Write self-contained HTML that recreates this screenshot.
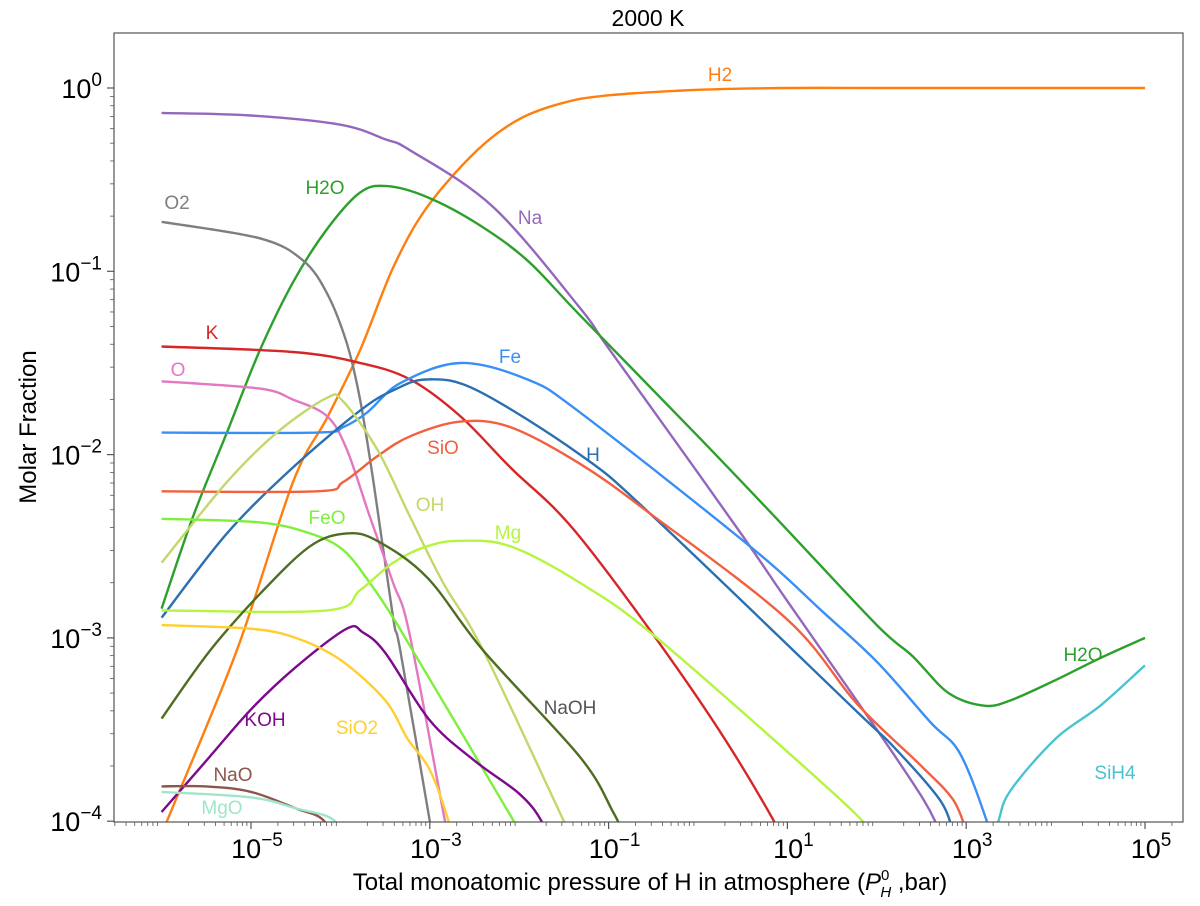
<!DOCTYPE html>
<html><head><meta charset="utf-8"><style>
body{margin:0;background:#fff;}
svg{display:block;font-family:"Liberation Sans",sans-serif;}
</style></head><body>
<svg id="chart" width="1200" height="906" viewBox="0 0 1200 906" xmlns="http://www.w3.org/2000/svg">
<defs><clipPath id="clip"><rect x="114" y="33" width="1069" height="789"/></clipPath></defs>
<text x="648" y="26" font-size="23" text-anchor="middle">2000 K</text>
<g id="lines" clip-path="url(#clip)"></g>
<g id="labels"></g>
<rect x="114" y="33" width="1069" height="789" fill="none" stroke="#555" stroke-width="1.2"/>
<g id="axes"></g>
<text transform="translate(36,427) rotate(-90)" font-size="24" text-anchor="middle">Molar Fraction</text>
<text x="650" y="890" font-size="24" text-anchor="middle">Total monoatomic pressure of H in atmosphere (<tspan font-style="italic">P</tspan><tspan font-size="15" dy="-10">0</tspan><tspan font-size="15" dx="-9" dy="17" font-style="italic">H</tspan><tspan dy="-7"> ,bar)</tspan></text>
</svg>
<script>
const xTickExps = [-5, -3, -1, 1, 3, 5];
const yTickExps = [0, -1, -2, -3, -4];

const h2X = [-6.05, -5.94, -5.16, -4.53, -4.15, -3.78, -3.41, -3.03, -2.47, -2, -1.5, -1, 0, 1, 2, 3, 4, 5];
const h2Y = [-4.15, -4, -3.07, -2.15, -1.8, -1.43, -0.98, -0.65, -0.34, -0.17, -0.08, -0.04, -0.01, 0, 0, 0, 0, 0];
const naX = [-6, -5, -4, -3.5, -3.22, -2.29, -1.32, -1, 0, 0.58, 1, 2, 2.52, 2.7];
const naY = [-0.136, -0.15, -0.2, -0.28, -0.34, -0.65, -1.2, -1.42, -2.1, -2.5, -2.8, -3.5, -3.88, -4.05];
const h2oX = [-6, -5.65, -5.27, -4.9, -4.53, -4.15, -3.78, -3.48, -3.03, -2.47, -1.91, -1.32, 0, 0.92, 2, 2.4, 2.8, 3.2, 3.5, 4, 4.5, 5];
const h2oY = [-2.84, -2.34, -1.88, -1.43, -1.06, -0.77, -0.57, -0.535, -0.595, -0.74, -0.94, -1.24, -1.9, -2.37, -2.93, -3.1, -3.3, -3.37, -3.34, -3.23, -3.11, -3.0];
const o2X = [-6, -4.9, -4.42, -4.15, -3.93, -3.78, -3.63, -3.41, -3.33, -3.0, -2.9];
const o2Y = [-0.73, -0.82, -0.94, -1.12, -1.39, -1.7, -2.15, -2.89, -3.07, -4.0, -4.3];
const kX = [-6, -4.53, -3.78, -3.22, -2.66, -2.1, -1.32, 0, 0.85, 1.0];
const kY = [-1.41, -1.44, -1.5, -1.59, -1.79, -2.07, -2.45, -3.33, -4.0, -4.2];
const oX = [-6, -4.9, -4.53, -4.15, -3.93, -3.67, -3.41, -3.23, -2.83, -2.7];
const oY = [-1.6, -1.64, -1.7, -1.79, -1.97, -2.34, -2.7, -2.97, -4.0, -4.3];
const feX = [-6, -4.26, -3.97, -3.7, -3.33, -2.66, -1.91, -1.32, 0.58, 1.4, 2, 2.6, 2.93, 3.23, 3.4];
const feY = [-1.88, -1.88, -1.85, -1.77, -1.61, -1.5, -1.59, -1.77, -2.5, -2.86, -3.13, -3.46, -3.63, -4.0, -4.3];
const hX = [-6, -5.27, -4.53, -3.78, -3.41, -3.03, -2.47, -1.32, -0.54, 1.73, 2.2, 2.7, 2.85];
const hY = [-2.89, -2.43, -2.07, -1.76, -1.65, -1.59, -1.65, -2.0, -2.32, -3.38, -3.6, -3.88, -4.05];
const sioX = [-6, -4.26, -3.97, -3.59, -3.22, -2.66, -2.1, -1.32, -0.54, 1.0, 1.78, 2.5, 2.85, 3.0];
const sioY = [-2.2, -2.2, -2.15, -2.01, -1.9, -1.82, -1.85, -2.05, -2.32, -2.9, -3.36, -3.7, -3.88, -4.05];
const ohX = [-6, -5.27, -4.71, -4.15, -3.97, -3.59, -3.22, -2.85, -2.4, -1.5, -1.3];
const ohY = [-2.59, -2.15, -1.88, -1.69, -1.71, -1.97, -2.34, -2.7, -3.07, -4.0, -4.2];
const feoX = [-6, -4.9, -4.34, -3.97, -3.67, -3.41, -3.19, -2.06, -1.9];
const feoY = [-2.35, -2.37, -2.43, -2.52, -2.7, -2.89, -3.07, -4.0, -4.15];
const mgX = [-6, -4.15, -3.78, -3.41, -3.03, -2.66, -2.1, -1.32, -0.46, 1.59, 1.9];
const mgY = [-2.85, -2.85, -2.74, -2.59, -2.5, -2.47, -2.5, -2.7, -3.0, -3.88, -4.05];
const naohX = [-6, -5.46, -4.9, -4.34, -3.93, -3.59, -3.03, -2.4, -1.32, -0.95, -0.8];
const naohY = [-3.44, -3.07, -2.76, -2.5, -2.43, -2.47, -2.67, -3.07, -3.65, -3.95, -4.1];
const kohX = [-6, -5.5, -5, -4.5, -3.93, -3.75, -3.5, -3, -2.5, -2, -1.75, -1.6];
const kohY = [-3.95, -3.67, -3.39, -3.16, -2.95, -2.97, -3.08, -3.45, -3.67, -3.85, -4.0, -4.2];
const sio2X = [-6, -5, -4.5, -4, -3.5, -3.25, -3, -2.79, -2.7];
const sio2Y = [-2.93, -2.95, -3.0, -3.12, -3.34, -3.55, -3.72, -4.0, -4.2];
const naoX = [-6, -5.5, -5, -4.5, -4.18, -4.0];
const naoY = [-3.81, -3.81, -3.84, -3.93, -4.0, -4.2];
const mgoX = [-6, -5, -4.5, -4.06, -3.9];
const mgoY = [-3.84, -3.87, -3.93, -4.0, -4.2];
const sih4X = [3.2, 3.36, 3.5, 4, 4.5, 5];
const sih4Y = [-4.3, -4.0, -3.83, -3.55, -3.37, -3.15];

const series = [
 ['H2', h2X, h2Y, '#ff7f0e'], ['Na', naX, naY, '#9467bd'], ['H2O', h2oX, h2oY, '#2ca02c'],
 ['O2', o2X, o2Y, '#7f7f7f'], ['K', kX, kY, '#d62728'], ['O', oX, oY, '#e377c2'],
 ['Fe', feX, feY, '#3a8ff5'], ['H', hX, hY, '#2a6fb0'], ['SiO', sioX, sioY, '#f2603f'],
 ['OH', ohX, ohY, '#c4d76a'], ['FeO', feoX, feoY, '#7ef03c'], ['Mg', mgX, mgY, '#b4f540'],
 ['NaOH', naohX, naohY, '#4f6d22'], ['KOH', kohX, kohY, '#7d0a8c'], ['SiO2', sio2X, sio2Y, '#ffcf30'],
 ['NaO', naoX, naoY, '#8c564b'], ['MgO', mgoX, mgoY, '#9fe6c8'], ['SiH4', sih4X, sih4Y, '#4ac3d0']
];
const labelTexts = ['O2','H2O','Na','H2','K','O','Fe','SiO','H','OH','FeO','Mg','NaOH','KOH','SiO2','NaO','MgO','H2O','SiH4'];
const labelColors = ['#7f7f7f','#2ca02c','#9467bd','#ff7f0e','#d62728','#e377c2','#3a8ff5','#f2603f','#2a6fb0','#c4d76a','#7ef03c','#b4f540','#555','#7d0a8c','#ffcf30','#8c564b','#9fe6c8','#2ca02c','#4ac3d0'];
const labelAt = [[177,209],[325,194],[530,224],[720,81],[212,339],[178,376],[510,363],[443,454],[593,461],[430,511],[327,524],[508,539],[570,714],[265,726],[357,734],[233,781],[222,814],[1083,661],[1115,779]];

const NS = 'http://www.w3.org/2000/svg';
const X = v => 251 + (v + 5) * 89.4;
const Y = v => 88 - v * 183.3;

function smoothPath(pts) {
  let d = 'M' + pts[0][0].toFixed(1) + ',' + pts[0][1].toFixed(1);
  for (let i = 0; i < pts.length - 1; i++) {
    const p0 = pts[i - 1] || pts[i], p1 = pts[i], p2 = pts[i + 1], p3 = pts[i + 2] || p2;
    const t = 6;
    const c1 = [p1[0] + (p2[0] - p0[0]) / t, p1[1] + (p2[1] - p0[1]) / t];
    const c2 = [p2[0] - (p3[0] - p1[0]) / t, p2[1] - (p3[1] - p1[1]) / t];
    d += 'C' + c1[0].toFixed(1) + ',' + c1[1].toFixed(1) + ' ' + c2[0].toFixed(1) + ',' + c2[1].toFixed(1) + ' ' + p2[0].toFixed(1) + ',' + p2[1].toFixed(1);
  }
  return d;
}

const lines = document.getElementById('lines');
series.forEach(s => {
  const p = document.createElementNS(NS, 'path');
  const pts = s[1].map((x, i) => [X(x), Y(s[2][i])]);
  p.setAttribute('d', smoothPath(pts));
  p.setAttribute('fill', 'none');
  p.setAttribute('stroke', s[3]);
  p.setAttribute('stroke-width', '2.4');
  p.setAttribute('stroke-linejoin', 'round');
  
  
  lines.appendChild(p);
});

const labels = document.getElementById('labels');
labelTexts.forEach((t, i) => {
  const e = document.createElementNS(NS, 'text');
  e.setAttribute('x', labelAt[i][0]);
  e.setAttribute('y', labelAt[i][1]);
  e.setAttribute('font-size', '19');
  e.setAttribute('text-anchor', 'middle');
  e.setAttribute('fill', labelColors[i]);
  e.textContent = t;
  
  
  labels.appendChild(e);
});

const axes = document.getElementById('axes');
function line(x1, y1, x2, y2, w) {
  const l = document.createElementNS(NS, 'line');
  l.setAttribute('x1', x1); l.setAttribute('y1', y1); l.setAttribute('x2', x2); l.setAttribute('y2', y2);
  l.setAttribute('stroke', '#555'); l.setAttribute('stroke-width', w);
  
  
  axes.appendChild(l);
}
function tickLabel(x, y, exp, anchor) {
  const t = document.createElementNS(NS, 'text');
  t.setAttribute('x', x); t.setAttribute('y', y);
  t.setAttribute('font-size', '27'); t.setAttribute('text-anchor', anchor);
  t.innerHTML = '10<tspan font-size="19" dy="-12">' + (exp < 0 ? '\u2212' + (-exp) : exp) + '</tspan>';
  
  
  axes.appendChild(t);
}
xTickExps.forEach(e => { line(X(e), 822, X(e), 829, 1.2); tickLabel(X(e) + 6, 858, e, 'middle'); });
for (let d = -7; d <= 5; d++) for (let m = 2; m <= 9; m++) {
  const v = d + Math.log10(m);
  if (X(v) > 114 && X(v) < 1183) line(X(v), 822, X(v), 826, 0.8);
}
yTickExps.forEach(e => { line(107, Y(e), 114, Y(e), 1.2); tickLabel(102, Y(e) + 10, e, 'end'); });
for (let d = -4; d <= 0; d++) for (let m = 2; m <= 9; m++) {
  const v = d + Math.log10(m);
  if (Y(v) > 33 && Y(v) < 822) line(110, Y(v), 114, Y(v), 0.8);
}
</script>
</body></html>
